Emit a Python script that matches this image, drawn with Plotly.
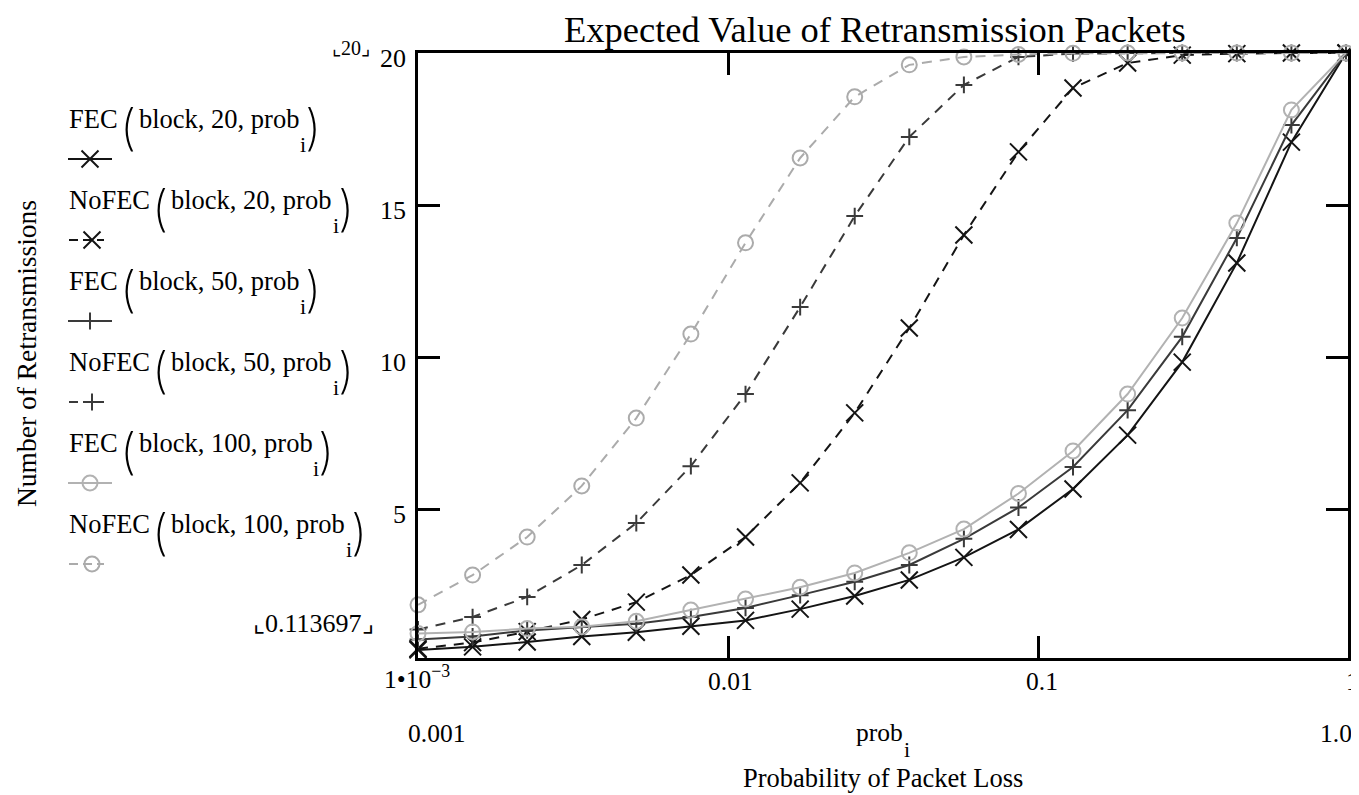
import math
import plotly.graph_objects as go

# ---------------- data ----------------
prob = [0.001, 0.0015, 0.00225, 0.003375, 0.00506, 0.00759, 0.01139, 0.01709,
        0.02563, 0.03844, 0.05767, 0.0865, 0.1297, 0.1946, 0.2919, 0.4379,
        0.6568, 0.9853]

fec_20 = [0.38, 0.48, 0.64, 0.82, 0.96, 1.16, 1.35, 1.72, 2.15, 2.68, 3.42,
          4.34, 5.67, 7.44, 9.84, 13.1, 17.07, 20.0]
nofec_20 = [0.42, 0.62, 0.98, 1.38, 1.95, 2.84, 4.09, 5.87, 8.17, 10.96, 14.02,
            16.75, 18.85, 19.67, 19.93, 19.98, 20.0, 20.0]
fec_50 = [0.72, 0.82, 1.02, 1.13, 1.24, 1.46, 1.76, 2.18, 2.62, 3.17, 4.03,
          5.06, 6.39, 8.26, 10.67, 13.92, 17.63, 20.0]
nofec_50 = [1.05, 1.46, 2.12, 3.17, 4.55, 6.42, 8.79, 11.65, 14.64, 17.24,
            18.95, 19.87, 19.98, 20.0, 20.0, 20.0, 20.0, 20.0]
fec_100 = [0.92, 0.97, 1.08, 1.14, 1.32, 1.69, 2.05, 2.44, 2.91, 3.57, 4.35,
           5.52, 6.92, 8.79, 11.29, 14.41, 18.13, 20.0]
nofec_100 = [1.86, 2.84, 4.09, 5.77, 8.0, 10.76, 13.76, 16.55, 18.56, 19.61,
             19.87, 19.95, 19.99, 20.0, 20.0, 20.0, 20.0, 20.0]

y_min, y_max = 0.113697, 20
x_tickvals = [0.01, 0.1, 1]
x_ticktext = ["0.01", "0.1", "1"]
y_tickvals = [5, 10, 15, 20]
y_ticktext = ["5", "10", "15", "20"]

title = "Expected Value of Retransmission Packets"
x_title = "Probability of Packet Loss"
y_title = "Number of Retransmissions"

# ---------------- geometry (screen px; page has an 8px body margin) -------
OX, OY = 8, 8
W, H = 1359 - OX, 795 - OY
PL, PR, PT, PB = 418, 1348, 53, 658
FONT = "Liberation Serif"
ASC = 0.3375            # centre of text box above baseline (em)


def px(sx):
    return (sx - OX) / W


def py(sy):
    return 1 - (sy - OY) / H


# Times / Liberation Serif advance widths (1/1000 em)
TW = {'F': 556, 'E': 611, 'C': 667, 'N': 722, 'o': 500, ' ': 250, '(': 333,
      ')': 333, 'b': 500, 'l': 278, 'c': 444, 'k': 500, ',': 250, '0': 500,
      '1': 500, '2': 500, '5': 500, 'p': 500, 'r': 333, 'i': 278}


def tw(s, size):
    return sum(TW[c] for c in s) * size / 1000.0


DASH = "10px,8px"
series = [
    ("FEC", 20, fec_20, "#141414", "solid", "x-thin"),
    ("NoFEC", 20, nofec_20, "#141414", DASH, "x-thin"),
    ("FEC", 50, fec_50, "#3a3a3a", "solid", "cross-thin"),
    ("NoFEC", 50, nofec_50, "#3a3a3a", DASH, "cross-thin"),
    ("FEC", 100, fec_100, "#b2b2b2", "solid", "circle-open"),
    ("NoFEC", 100, nofec_100, "#ababab", DASH, "circle-open"),
]
MSIZE = {"x-thin": 17, "cross-thin": 12, "circle-open": 15}

fig = go.Figure()
for kind, blk, vals, col, dash, sym in series:
    fig.add_trace(go.Scatter(
        x=prob, y=vals, mode="lines+markers", xaxis="x", yaxis="y",
        line=dict(color=col, width=2, dash=dash),
        marker=dict(symbol=sym, size=MSIZE[sym], color=col,
                    line=dict(color=col, width=2)),
        showlegend=False, cliponaxis=False, hoverinfo="skip"))

annotations = []


def txt(x, y, s, size, xanchor="center", family=FONT, color="black",
        weight="normal", **kw):
    d = dict(x=x, y=y, text=s, xanchor=xanchor, yanchor="middle",
             showarrow=False, xref="x2", yref="y2", borderpad=0,
             font=dict(family=family, size=size, color=color, weight=weight))
    d.update(kw)
    annotations.append(d)


# ---------------- Mathcad-style legend ----------------
LS, PS, IS = 26.5, 49, 22
PFONT = "Inter"
for k, (kind, blk, vals, col, dash, sym) in enumerate(series):
    B = 128 + 81 * k                 # text baseline
    txt(68, B - ASC * LS, kind, LS, "left")
    pxl = 68 + tw(kind + " ", LS)
    txt(pxl - 4.5, B - 1, "(", PS, "left", family=PFONT, weight=200)
    body = f"block, {blk}, prob"
    bx = pxl + 14.5
    txt(bx, B - ASC * LS, body, LS, "left")
    end = bx + tw(body, LS)
    txt(end + 1, B + 24 - ASC * IS, "i", IS, "left")
    txt(end + 6, B - 1, ")", PS, "left", family=PFONT, weight=200)

    sy = B + 31
    if dash == "solid":
        lx, mx, ld = [68, 112], 90, "solid"
    else:
        lx, mx, ld = [69, 104], 92, "9px,5px"
    fig.add_trace(go.Scatter(
        x=lx, y=[sy, sy], mode="lines", xaxis="x2", yaxis="y2",
        line=dict(color=col, width=2, dash=ld),
        showlegend=False, hoverinfo="skip"))
    fig.add_trace(go.Scatter(
        x=[mx], y=[sy], mode="markers", xaxis="x2", yaxis="y2",
        marker=dict(symbol=sym, size=MSIZE[sym], color=col,
                    line=dict(color=col, width=2)),
        showlegend=False, hoverinfo="skip"))

# ---------------- titles ----------------
txt(875, 8, title, 36.5, yanchor="top")
txt(883, 787 - ASC * 26.5, x_title, 26.5)
txt(26, 354, y_title, 27.5, textangle=-90)

# ---------------- axis limit / tick labels ----------------
txt(351, 55 - ASC * 20, "\u231e20\u231f", 20)
txt(313, 632 - ASC * 26, "\u231e0.113697\u231f", 26)
for v, t in zip(y_tickvals, y_ticktext):
    txt(407, v, t, 26, "right", yref="y", yshift=-5.5)
x_shift = [2, 4, 4]
for v, t, sh in zip(x_tickvals, x_ticktext, x_shift):
    txt(math.log10(v), 690 - ASC * 25.5, t, 25.5, xref="x", xshift=sh)
# lower-left x-limit label 1*10^-3 (superscript raises the box top)
txt(383, 688 - 10.5, "1\u202210<sup>\u22123</sup>", 25.5, "left")
txt(436.5, 742 - ASC * 25.5, "0.001", 25.5)
txt(855, 741 - ASC * 25.5, "prob", 25.5, "left")
txt(903, 757 - ASC * 22, "i", 22, "left")
txt(1353, 742 - ASC * 25.5, "1.0", 25.5, "right")

axis_common = dict(showline=True, linewidth=2.5, linecolor="black",
                   mirror="allticks", ticks="inside", ticklen=22,
                   tickwidth=2.5, tickcolor="black", showgrid=False,
                   zeroline=False, showticklabels=False)

fig.update_layout(
    width=W, height=H, autosize=False,
    margin=dict(l=0, r=0, t=0, b=0, pad=0),
    paper_bgcolor="white", plot_bgcolor="rgba(0,0,0,0)",
    showlegend=False,
    xaxis=dict(type="log", range=[-3, 0], domain=[px(PL), px(PR)],
               tickvals=[0.01, 0.1], anchor="y", **axis_common),
    yaxis=dict(range=[y_min, y_max], domain=[py(PB), py(PT)],
               tickvals=[5, 10, 15], anchor="x", **axis_common),
    xaxis2=dict(range=[OX, OX + W], domain=[0, 1], anchor="y2",
                visible=False, fixedrange=True),
    yaxis2=dict(range=[OY + H, OY], domain=[0, 1], anchor="x2",
                visible=False, fixedrange=True),
    annotations=annotations,
)

fig.write_html("out.html")
